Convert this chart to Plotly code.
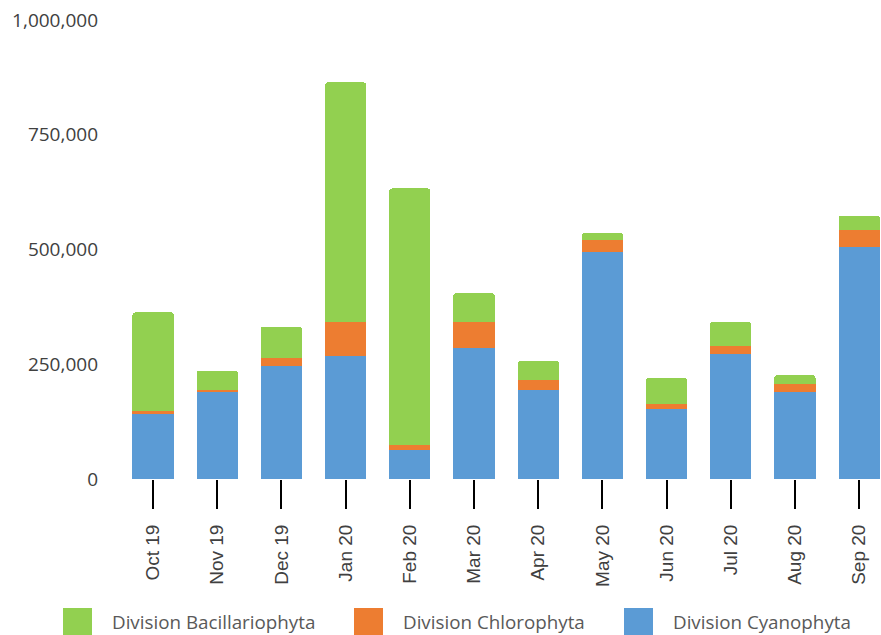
import plotly.graph_objects as go

# Monthly cell counts per algal division
months = ["Oct 19", "Nov 19", "Dec 19", "Jan 20", "Feb 20", "Mar 20",
          "Apr 20", "May 20", "Jun 20", "Jul 20", "Aug 20", "Sep 20"]
cyanophyta = [142000, 190000, 247000, 268000, 64000, 285000,
              195000, 495000, 153000, 273000, 189000, 505000]
chlorophyta = [6000, 5000, 16000, 74000, 10000, 57000,
               21000, 26000, 10000, 16000, 17000, 37000]
bacillariophyta = [215000, 41000, 69000, 522000, 559000, 63000,
                   41000, 15000, 57000, 53000, 20000, 32000]

y_ticks = [0, 250000, 500000, 750000, 1000000]

series = [
    ("Division Cyanophyta", cyanophyta, "#5B9BD5"),
    ("Division Chlorophyta", chlorophyta, "#ED7D31"),
    ("Division Bacillariophyta", bacillariophyta, "#92D050"),
]

W, H = 881, 635
ML, MR, MT, MB = 121, 0, 20, 156
PW, PH = W - ML - MR, H - MT - MB


def px_x(px):
    return (px - ML) / PW


def px_y(py):
    return (H - MB - py) / PH


fig = go.Figure()
for name, vals, color in series:
    fig.add_trace(go.Bar(
        x=months, y=vals, name=name, showlegend=False,
        marker=dict(color=color, line=dict(width=0)),
    ))

# Legend drawn as large swatches with labels beneath the axis
legend_items = [
    ("Division Bacillariophyta", "#92D050", 63),
    ("Division Chlorophyta", "#ED7D31", 354),
    ("Division Cyanophyta", "#5B9BD5", 624),
]
shapes = []
annotations = []
for label, color, x0 in legend_items:
    shapes.append(dict(
        type="rect", xref="paper", yref="paper",
        x0=px_x(x0), x1=px_x(x0 + 29), y0=px_y(640), y1=px_y(608),
        fillcolor=color, line=dict(width=0), layer="above",
    ))
    annotations.append(dict(
        text=label, xref="paper", yref="paper",
        x=px_x(x0 + 47), y=px_y(622), xanchor="left", yanchor="middle",
        showarrow=False, font=dict(family="Open Sans", size=18.8, color="#595959"),
    ))

fig.update_layout(
    width=W, height=H, autosize=False,
    margin=dict(l=ML, r=MR, t=MT, b=MB, pad=0),
    paper_bgcolor="white", plot_bgcolor="white",
    barmode="stack", bargap=0.357, barcornerradius=3,
    shapes=shapes, annotations=annotations,
    showlegend=False,
)
fig.update_xaxes(
    type="category", range=[-0.5, 11.34],
    showgrid=False, zeroline=False, showline=False,
    ticks="outside", ticklen=29, tickwidth=2, tickcolor="#000000",
    tickangle=-90, ticklabelstandoff=8,
    tickfont=dict(family="Liberation Sans", size=19, color="#404040"),
)
fig.update_yaxes(
    range=[0, 1000000], tickvals=y_ticks, tickformat=",d",
    showgrid=False, zeroline=False, showline=False, ticks="",
    ticklabelstandoff=22,
    tickfont=dict(family="Open Sans", size=19, color="#404040"),
)

fig.write_html("out.html")
